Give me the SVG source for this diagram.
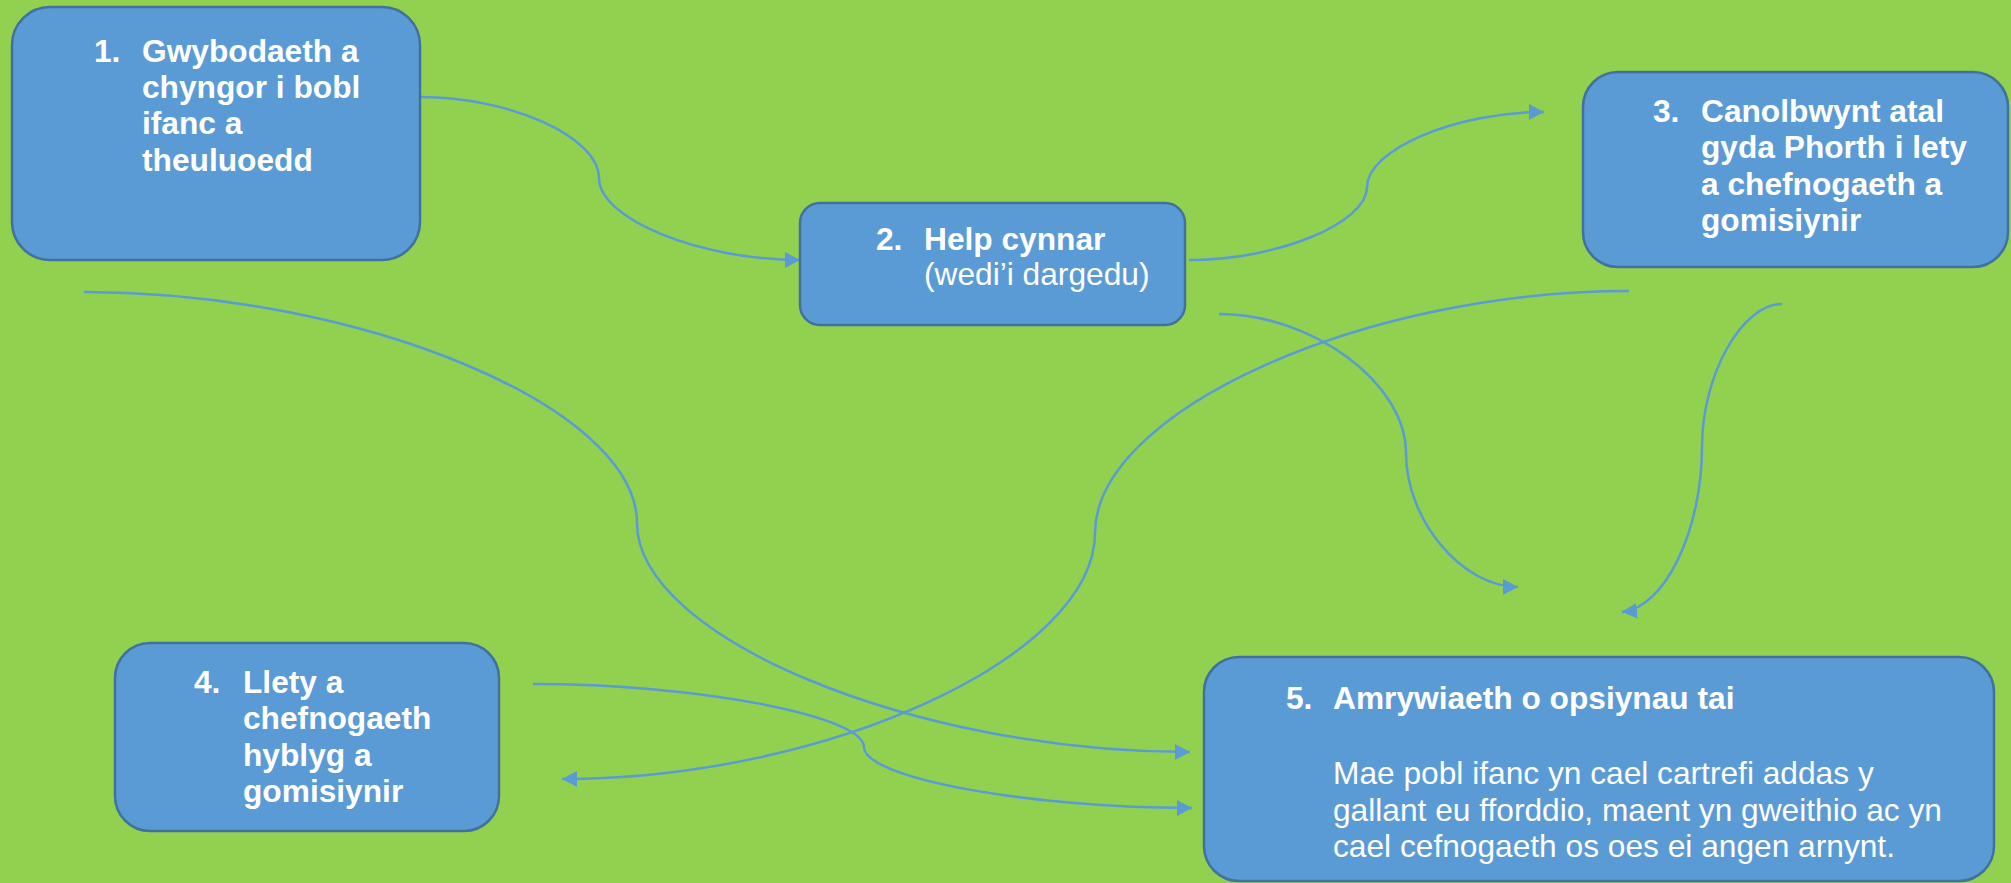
<svg xmlns="http://www.w3.org/2000/svg" width="2011" height="883" viewBox="0 0 2011 883">
<style>
.box{fill:#5B9BD5;stroke:#41719C;stroke-width:2.5}
.t{font-family:"Liberation Sans",Arial,sans-serif;font-size:31.7px;fill:#FFFFFF}
.b{font-weight:bold}
.c{fill:none;stroke:#5B9BD5;stroke-width:2.5;marker-end:url(#ah)}
</style>
<defs>
<marker id="ah" markerUnits="userSpaceOnUse" markerWidth="16" markerHeight="17" refX="15" refY="8" orient="auto" viewBox="0 0 16 17">
<path d="M0,0 L15,8 L0,16 z" fill="#5B9BD5"/>
</marker>
</defs>
<rect x="0" y="0" width="2011" height="883" fill="#92D050"/>
<g id="connectors">
<path class="c" d="M421,97 C510,97 599,137 599,178 C599,219 700,260 800,260"/>
<path class="c" d="M1189,260 C1278,260 1367,223 1367,187 C1367,150 1455,112 1544,112"/>
<path class="c" d="M1219,314 C1312,314 1406,383 1406,453 C1406,520 1462,587 1518,587"/>
<path class="c" d="M1782,304 C1742,304 1702,375 1702,447 C1702,530 1665,608 1622,612"/>
<path class="c" d="M84,292 C360,292 637,407 637,523 C637,637 913,752 1190,752"/>
<path class="c" d="M1629,291 C1362,291 1095,412 1095,533 C1095,656 828,779 562,779"/>
<path class="c" d="M533,684 C698,684 864,716 864,747 C864,778 1028,808 1192,808"/>
</g>
<g id="node1">
<rect class="box" x="12" y="7" width="408" height="253" rx="38"/>
<text class="t b" x="94" y="62">1.</text>
<text class="t b" x="142" y="62">Gwybodaeth a</text>
<text class="t b" x="142" y="98">chyngor i bobl</text>
<text class="t b" x="142" y="134">ifanc a</text>
<text class="t b" x="142" y="171">theuluoedd</text>
</g>
<g id="node2">
<rect class="box" x="800" y="203" width="385" height="122" rx="20"/>
<text class="t b" x="876" y="250">2.</text>
<text class="t b" x="924" y="250">Help cynnar</text>
<text class="t" x="924" y="285">(wedi’i dargedu)</text>
</g>
<g id="node3">
<rect class="box" x="1583" y="72" width="425" height="195" rx="35"/>
<text class="t b" x="1653" y="122">3.</text>
<text class="t b" x="1701" y="122">Canolbwynt atal</text>
<text class="t b" x="1701" y="158">gyda Phorth i lety</text>
<text class="t b" x="1701" y="195">a chefnogaeth a</text>
<text class="t b" x="1701" y="231">gomisiynir</text>
</g>
<g id="node4">
<rect class="box" x="115" y="643" width="384" height="188" rx="35"/>
<text class="t b" x="194" y="693">4.</text>
<text class="t b" x="243" y="693">Llety a</text>
<text class="t b" x="243" y="729">chefnogaeth</text>
<text class="t b" x="243" y="766">hyblyg a</text>
<text class="t b" x="243" y="802">gomisiynir</text>
</g>
<g id="node5">
<rect class="box" x="1204" y="657" width="790" height="224" rx="35"/>
<text class="t b" x="1286" y="709">5.</text>
<text class="t b" x="1333" y="709">Amrywiaeth o opsiynau tai</text>
<text class="t" x="1333" y="784">Mae pobl ifanc yn cael cartrefi addas y</text>
<text class="t" x="1333" y="821">gallant eu fforddio, maent yn gweithio ac yn</text>
<text class="t" x="1333" y="857">cael cefnogaeth os oes ei angen arnynt.</text>
</g>
</svg>
